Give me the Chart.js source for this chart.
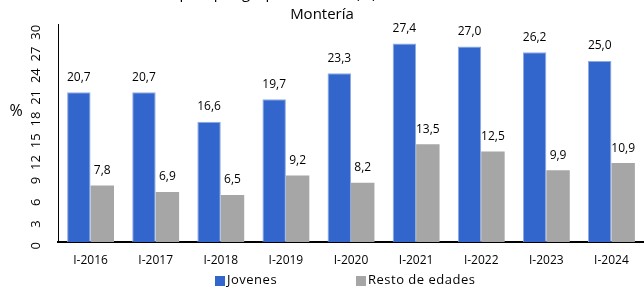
<!DOCTYPE html>
<html>
<head>
<meta charset="utf-8">
<script src="https://cdn.jsdelivr.net/npm/chart.js@4.4.1/dist/chart.umd.min.js"></script>
<style>
  html, body { margin: 0; padding: 0; background: #fff; overflow: hidden; }
  #wrap { position: absolute; left: 0; top: 0; width: 644px; height: 287px; }
</style>
</head>
<body>
<div id="wrap"><canvas id="chart"></canvas></div>
<script>
const periods = ["I-2016", "I-2017", "I-2018", "I-2019", "I-2020", "I-2021", "I-2022", "I-2023", "I-2024"];
const jovenes = [20.7, 20.7, 16.6, 19.7, 23.3, 27.4, 27.0, 26.2, 25.0];
const resto = [7.8, 6.9, 6.5, 9.2, 8.2, 13.5, 12.5, 9.9, 10.9];
const titleLines = ["Tasa de desempleo por grupos de edad (%) - I trimestre 2016-2024", "Montería"];

const fontFam = "'Open Sans', 'Noto Sans', sans-serif";
const fmt = (v) => v.toFixed(1).replace(".", ",");

// value labels above the bars
const barLabels = {
  id: "barLabels",
  afterDatasetsDraw(chart) {
    const ctx = chart.ctx;
    ctx.save();
    ctx.fillStyle = "#000";
    ctx.font = "12px " + fontFam;
    ctx.textAlign = "center";
    ctx.textBaseline = "bottom";
    chart.data.datasets.forEach((ds, i) => {
      chart.getDatasetMeta(i).data.forEach((bar, j) => {
        ctx.fillText(fmt(ds.data[j]), bar.x, bar.y - 9);
      });
    });
    ctx.restore();
  },
};

// title (first line runs off the top edge), the horizontal "%" and the legend
const extraText = {
  id: "extraText",
  afterDraw(chart) {
    const ctx = chart.ctx;
    ctx.save();
    ctx.fillStyle = "#000";
    ctx.textAlign = "center";
    ctx.textBaseline = "middle";
    ctx.font = "15px " + fontFam;
    ctx.fillText(titleLines[0], 307, -6);
    ctx.fillText(titleLines[1], 322, 15);
    ctx.font = "16px " + fontFam;
    ctx.fillText("%", 16, 111);

    // legend
    const legendX = [215, 356];
    ctx.font = "13px " + fontFam;
    ctx.textAlign = "left";
    ctx.letterSpacing = "0.5px";
    chart.data.datasets.forEach((ds, i) => {
      ctx.fillStyle = ds.backgroundColor;
      ctx.fillRect(legendX[i], 276, 10, 10);
      ctx.fillStyle = "#000";
      ctx.fillText(ds.label, legendX[i] + 12, 280);
    });
    ctx.restore();
  },
};

new Chart(document.getElementById("chart"), {
  type: "bar",
  data: {
    labels: periods,
    datasets: [
      {
        label: "Jovenes",
        data: jovenes,
        backgroundColor: "#3366cc",
        borderColor: "#8eaadf",
        borderWidth: 1,
        categoryPercentage: 0.72,
        barPercentage: 1.0,
      },
      {
        label: "Resto de edades",
        data: resto,
        backgroundColor: "#a6a6a6",
        borderWidth: 0,
        categoryPercentage: 0.72,
        barPercentage: 1.0,
      },
    ],
  },
  options: {
    responsive: true,
    maintainAspectRatio: false,
    animation: false,
    layout: { padding: { left: 0, right: 0, top: 16, bottom: 0 } },
    plugins: {
      title: { display: false },
      legend: { display: false },
      tooltip: { enabled: false },
    },
    scales: {
      x: {
        grid: { display: false, drawTicks: false },
        border: { color: "#000", width: 2 },
        ticks: { color: "#000", font: { family: fontFam, size: 12 }, padding: 11, maxRotation: 0, minRotation: 0 },
        afterFit: (s) => { s.height = 45; },
      },
      y: {
        min: 0,
        max: 30,
        grid: { display: false, drawOnChartArea: false, drawTicks: true, tickLength: 5, color: "#000" },
        border: { color: "#000", width: 1 },
        ticks: {
          stepSize: 3,
          color: "#000",
          font: { family: fontFam, size: 13 },
          padding: 17,
          minRotation: 90,
          maxRotation: 90,
        },
        afterFit: (s) => { s.width = 58; },
      },
    },
  },
  plugins: [barLabels, extraText],
});
</script>
</body>
</html>
